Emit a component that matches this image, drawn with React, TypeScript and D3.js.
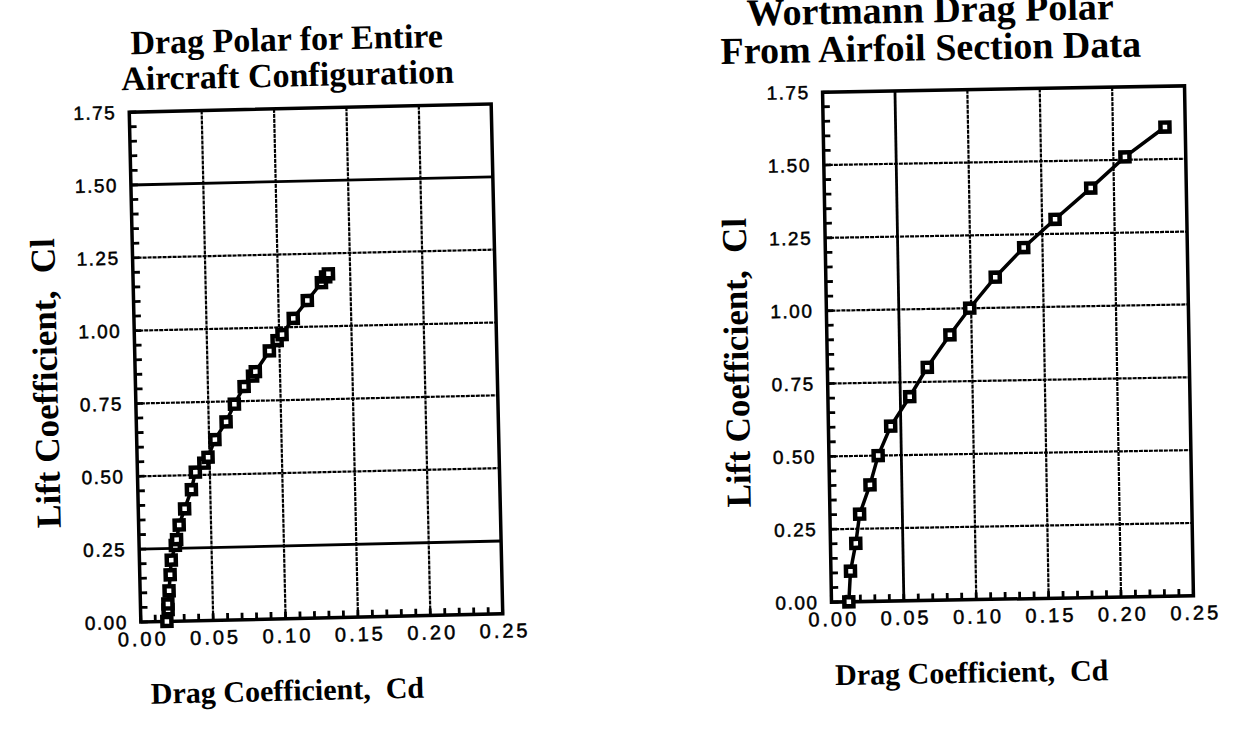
import React, { useEffect, useRef } from 'react';
import * as d3 from 'd3';

// Drag polar, entire aircraft configuration (left chart)
const aircraftCd = [0.018, 0.019, 0.019, 0.02, 0.021, 0.022, 0.025, 0.026, 0.028, 0.032, 0.037, 0.04, 0.046, 0.049, 0.054, 0.062, 0.068, 0.075, 0.081, 0.083, 0.093, 0.0985, 0.102, 0.11, 0.12, 0.13, 0.133, 0.135];
const aircraftCl = [0.0, 0.04, 0.06, 0.105, 0.16, 0.21, 0.26, 0.28, 0.33, 0.385, 0.45, 0.51, 0.54, 0.56, 0.62, 0.68, 0.74, 0.8, 0.835, 0.85, 0.92, 0.955, 0.975, 1.03, 1.09, 1.15, 1.17, 1.18];

// Wortmann drag polar from airfoil section data (right chart)
const wortmannCd = [0.012, 0.0135, 0.0175, 0.0205, 0.028, 0.034, 0.043, 0.0565, 0.069, 0.085, 0.099, 0.117, 0.137, 0.159, 0.184, 0.208, 0.236];
const wortmannCl = [0.0, 0.105, 0.2, 0.3, 0.4, 0.5, 0.6, 0.7, 0.8, 0.91, 1.0, 1.105, 1.205, 1.3, 1.405, 1.51, 1.61];

const cdTicks = [0, 0.05, 0.1, 0.15, 0.2, 0.25];
const clTicks = [0, 0.25, 0.5, 0.75, 1.0, 1.25, 1.5, 1.75];

const leftTitle = ['Drag Polar for Entire', 'Aircraft Configuration'];
const rightTitle = ['Wortmann Drag Polar', 'From Airfoil Section Data'];
const xTitle = 'Drag Coefficient,\u00a0 Cd';
const yTitle = 'Lift Coefficient,\u00a0 Cl';

const serif = '"Liberation Serif", "Times New Roman", serif';
const sans = '"Liberation Sans", Arial, sans-serif';

const App = () => {
  const svgRef = useRef(null);

  useEffect(() => {
    const svg = d3.select(svgRef.current);
    svg.selectAll('*').remove();

    const drawPanel = (p) => {
      const { left, top, width, height, angle } = p;
      const cx = left + width / 2;
      const cy = top + height / 2;

      // whole panel is slightly rotated, like the scanned page
      const outer = svg.append('g').attr('transform', `rotate(${angle},${cx},${cy})`);
      const g = outer.append('g').attr('transform', `translate(${left},${top})`);

      const x = d3.scaleLinear().domain([0, 0.25]).range([0, width]);
      const y = d3.scaleLinear().domain([0, 1.75]).range([height, 0]);

      // grid lines
      cdTicks.slice(1, -1).forEach((v) => {
        const solid = p.solidX.includes(v);
        g.append('line')
          .attr('x1', x(v)).attr('x2', x(v))
          .attr('y1', 0).attr('y2', height)
          .attr('stroke', '#000')
          .attr('stroke-width', solid ? 2.8 : 2.2)
          .attr('stroke-dasharray', solid ? null : '4 1');
      });
      clTicks.slice(1, -1).forEach((v) => {
        const solid = p.solidY.includes(v);
        g.append('line')
          .attr('x1', 0).attr('x2', width)
          .attr('y1', y(v)).attr('y2', y(v))
          .attr('stroke', '#000')
          .attr('stroke-width', solid ? 2.8 : 2.2)
          .attr('stroke-dasharray', solid ? null : '4 1');
      });

      // minor ticks, pointing inward
      d3.range(0, 1.75001, 0.05).forEach((v) => {
        g.append('line')
          .attr('x1', 0).attr('x2', 7)
          .attr('y1', y(v)).attr('y2', y(v))
          .attr('stroke', '#000').attr('stroke-width', 2.8);
      });
      d3.range(0, 0.25001, 0.01).forEach((v) => {
        g.append('line')
          .attr('x1', x(v)).attr('x2', x(v))
          .attr('y1', height).attr('y2', height - 7)
          .attr('stroke', '#000').attr('stroke-width', 2.8);
      });

      // frame
      g.append('rect')
        .attr('width', width).attr('height', height)
        .attr('fill', 'none').attr('stroke', '#000').attr('stroke-width', 3.5);

      // tick labels
      g.selectAll('.ylab')
        .data(clTicks)
        .enter()
        .append('text')
        .attr('x', -13)
        .attr('y', (d) => y(d))
        .attr('dy', '0.35em')
        .attr('text-anchor', 'end')
        .attr('font-family', sans)
        .attr('font-size', 19)
        .attr('letter-spacing', 1.5)
        .attr('stroke', '#000').attr('stroke-width', 0.5)
        .text((d) => d.toFixed(2));

      g.selectAll('.xlab')
        .data(cdTicks)
        .enter()
        .append('text')
        .attr('x', (d) => x(d) + 2)
        .attr('y', height + 24)
        .attr('text-anchor', 'middle')
        .attr('font-family', sans)
        .attr('font-size', 20)
        .attr('letter-spacing', 3)
        .attr('stroke', '#000').attr('stroke-width', 0.5)
        .text((d) => d.toFixed(2));

      // polar line and markers
      const pts = p.cd.map((c, i) => [c, p.cl[i]]);
      g.append('path')
        .datum(pts)
        .attr('fill', 'none')
        .attr('stroke', '#000')
        .attr('stroke-width', 3.5)
        .attr('d', d3.line().x((d) => x(d[0])).y((d) => y(d[1])));

      g.selectAll('.mk')
        .data(pts)
        .enter()
        .append('rect')
        .attr('x', (d) => x(d[0]) - 4.5)
        .attr('y', (d) => y(d[1]) - 4.5)
        .attr('width', 9)
        .attr('height', 9)
        .attr('fill', '#fff')
        .attr('stroke', '#000')
        .attr('stroke-width', 4.5);

      // titles
      p.title.forEach((t, i) => {
        outer.append('text')
          .attr('x', p.titleX)
          .attr('y', p.titleY + i * p.titleGap)
          .attr('text-anchor', 'middle')
          .attr('font-family', serif)
          .attr('font-weight', 'bold')
          .attr('font-size', p.titleSize)
          .text(t);
      });

      outer.append('text')
        .attr('x', p.xTitleX)
        .attr('y', p.xTitleY)
        .attr('text-anchor', 'middle')
        .attr('font-family', serif)
        .attr('font-weight', 'bold')
        .attr('font-size', 30)
        .text(xTitle);

      outer.append('text')
        .attr('transform', `translate(${p.yTitleX},${p.yTitleY}) rotate(-90)`)
        .attr('text-anchor', 'middle')
        .attr('font-family', serif)
        .attr('font-weight', 'bold')
        .attr('font-size', 35)
        .text(yTitle);
    };

    drawPanel({
      left: 135, top: 108, width: 362, height: 510, angle: -1.3,
      cd: aircraftCd, cl: aircraftCl, solidX: [], solidY: [0.25, 1.5],
      title: leftTitle, titleX: 294, titleY: 50, titleSize: 34, titleGap: 36,
      xTitleX: 280, xTitleY: 700,
      yTitleX: 57, yTitleY: 377
    });

    drawPanel({
      left: 827, top: 89, width: 362, height: 510, angle: -1.0,
      cd: wortmannCd, cl: wortmannCl, solidX: [0.05], solidY: [],
      title: rightTitle, titleX: 936, titleY: 21, titleSize: 38, titleGap: 38,
      xTitleX: 966, xTitleY: 682,
      yTitleX: 748, yTitleY: 358
    });
  }, []);

  return (
    <svg
      ref={svgRef}
      width={1235}
      height={740}
      style={{ position: 'absolute', left: 0, top: 0, background: '#fff' }}
    ></svg>
  );
};

export default App;
